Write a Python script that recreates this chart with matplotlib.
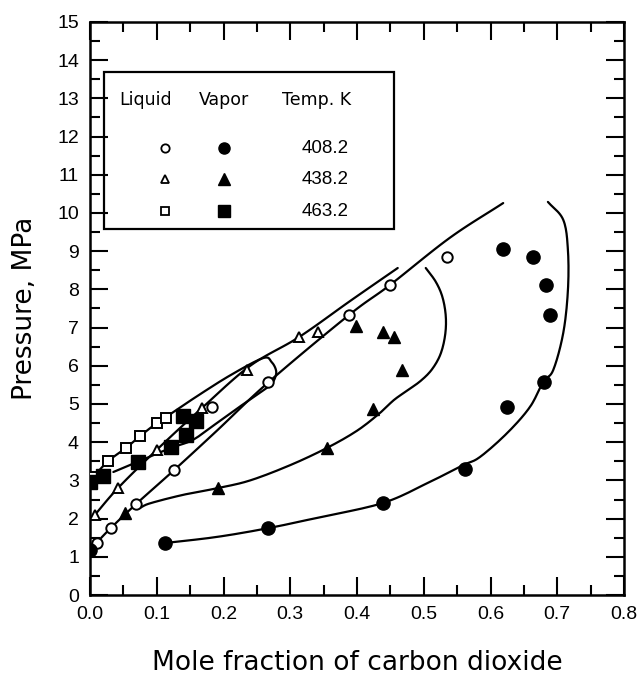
import numpy as np
import matplotlib
matplotlib.use("Agg")
import matplotlib.pyplot as plt
from matplotlib.ticker import MultipleLocator, FormatStrFormatter

# ---------------- data ----------------
# 408.2 K
liq_408_x = [0.010, 0.031, 0.069, 0.126, 0.183, 0.267, 0.388, 0.449, 0.535]
liq_408_y = [1.37, 1.75, 2.38, 3.27, 4.93, 5.58, 7.33, 8.11, 8.85]
vap_408_x = [0.000, 0.112, 0.267, 0.439, 0.562, 0.625, 0.680, 0.689, 0.683, 0.664, 0.619]
vap_408_y = [1.18, 1.36, 1.75, 2.41, 3.30, 4.93, 5.58, 7.33, 8.11, 8.85, 9.06]
# 438.2 K
liq_438_x = [0.007, 0.042, 0.100, 0.168, 0.235, 0.313, 0.342]
liq_438_y = [2.10, 2.80, 3.80, 4.90, 5.89, 6.76, 6.89]
vap_438_x = [0.052, 0.192, 0.355, 0.424, 0.467, 0.455, 0.439, 0.398]
vap_438_y = [2.14, 2.80, 3.85, 4.87, 5.89, 6.75, 6.89, 7.04]
# 463.2 K
liq_463_x = [0.006, 0.027, 0.054, 0.075, 0.100, 0.114]
liq_463_y = [3.08, 3.50, 3.85, 4.16, 4.50, 4.63]
vap_463_x = [0.000, 0.020, 0.072, 0.121, 0.144, 0.140, 0.159]
vap_463_y = [2.96, 3.12, 3.49, 3.88, 4.19, 4.68, 4.56]

# smoothed phase-envelope curves (hand-drawn in the reference)
curve_408_liq_x = [0.000, 0.010, 0.031, 0.069, 0.126, 0.190, 0.268, 0.388, 0.449, 0.539, 0.619]
curve_408_liq_y = [1.18, 1.37, 1.75, 2.38, 3.27, 4.30, 5.58, 7.33, 8.11, 9.35, 10.26]
curve_408_vap_x = [0.686, 0.709, 0.716, 0.716, 0.709, 0.694, 0.679, 0.659, 0.625, 0.584,
                   0.559, 0.509, 0.439, 0.340, 0.267, 0.190, 0.112]
curve_408_vap_y = [10.29, 9.82, 9.03, 7.98, 6.86, 5.89, 5.58, 4.92, 4.24, 3.61,
                   3.40, 2.96, 2.41, 2.02, 1.75, 1.52, 1.36]
curve_438_liq_x = [0.005, 0.042, 0.100, 0.168, 0.240, 0.313, 0.390, 0.461]
curve_438_liq_y = [2.05, 2.80, 3.80, 4.90, 6.00, 6.75, 7.70, 8.56]
curve_438_vap_x = [0.503, 0.518, 0.528, 0.533, 0.532, 0.525, 0.512, 0.495, 0.475, 0.455,
                   0.434, 0.400, 0.355, 0.300, 0.240, 0.192, 0.139, 0.090, 0.075]
curve_438_vap_y = [8.56, 8.20, 7.80, 7.30, 6.80, 6.30, 5.90, 5.60, 5.35, 5.10,
                   4.76, 4.30, 3.85, 3.40, 3.00, 2.80, 2.62, 2.40, 2.28]
curve_463_x = [0.000, 0.027, 0.054, 0.075, 0.100, 0.114, 0.160, 0.210, 0.259, 0.272,
               0.279, 0.275, 0.267, 0.230, 0.190, 0.154, 0.121, 0.072, 0.035]
curve_463_y = [3.00, 3.50, 3.85, 4.16, 4.50, 4.66, 5.20, 5.75, 6.20, 6.10,
               5.85, 5.60, 5.45, 5.00, 4.50, 4.06, 3.85, 3.49, 3.22]

temps = ["408.2", "438.2", "463.2"]


def smooth(xs, ys, n=12):
    """Catmull-Rom smoothing through the given points (display only)."""
    p = np.column_stack([xs, ys]).astype(float)
    p = np.vstack([p[0] * 2 - p[1], p, p[-1] * 2 - p[-2]])
    out = []
    t = np.linspace(0, 1, n, endpoint=False)[:, None]
    for i in range(1, len(p) - 2):
        p0, p1, p2, p3 = p[i - 1], p[i], p[i + 1], p[i + 2]
        seg = 0.5 * ((2 * p1) + (-p0 + p2) * t + (2 * p0 - 5 * p1 + 4 * p2 - p3) * t ** 2
                     + (-p0 + 3 * p1 - 3 * p2 + p3) * t ** 3)
        out.append(seg)
    out.append(p[-2][None, :])
    out = np.vstack(out)
    return out[:, 0], out[:, 1]


plt.rcParams['font.family'] = ['DejaVu Sans']
fig = plt.figure(figsize=(6.39, 6.75), dpi=100)
ax = fig.add_axes([90 / 639, 80 / 675, 534 / 639, 573 / 675])

lw = 1.6
for cx, cy in [(curve_408_liq_x, curve_408_liq_y), (curve_408_vap_x, curve_408_vap_y),
               (curve_438_liq_x, curve_438_liq_y), (curve_438_vap_x, curve_438_vap_y),
               (curve_463_x, curve_463_y)]:
    sx, sy = smooth(cx, cy)
    ax.plot(sx, sy, color='black', lw=lw, solid_capstyle='round', zorder=2)

mk = dict(linestyle='none', zorder=3)
ax.plot(liq_408_x, liq_408_y, marker='o', ms=7.5, mfc='white', mec='black', mew=1.4, **mk)
ax.plot(vap_408_x, vap_408_y, marker='o', ms=9.5, mfc='black', mec='black', **mk)
ax.plot(liq_438_x, liq_438_y, marker='^', ms=7.5, mfc='white', mec='black', mew=1.4, **mk)
ax.plot(vap_438_x, vap_438_y, marker='^', ms=9, mfc='black', mec='black', **mk)
ax.plot(liq_463_x, liq_463_y, marker='s', ms=7, mfc='white', mec='black', mew=1.4, **mk)
ax.plot(vap_463_x, vap_463_y, marker='s', ms=10, mfc='black', mec='black', **mk)

ax.set_xlim(0, 0.8)
ax.set_ylim(0, 15)
ax.xaxis.set_major_locator(MultipleLocator(0.1))
ax.xaxis.set_minor_locator(MultipleLocator(0.05))
ax.yaxis.set_major_locator(MultipleLocator(1))
ax.yaxis.set_minor_locator(MultipleLocator(0.5))
ax.xaxis.set_major_formatter(FormatStrFormatter('%.1f'))
ax.tick_params(which='both', direction='in', top=True, right=True, width=1.5)
ax.tick_params(which='major', length=13, labelsize=14, pad=8)
ax.tick_params(which='minor', length=7)
for lab in ax.get_xticklabels() + ax.get_yticklabels():
    lab.set_fontfamily('Liberation Sans')
for s in ax.spines.values():
    s.set_linewidth(1.8)

ax.set_xlabel('Mole fraction of carbon dioxide', fontsize=19, labelpad=19)
ax.set_ylabel('Pressure, MPa', fontsize=19, labelpad=14)

# legend box drawn as a table in data coordinates
ax.add_patch(plt.Rectangle((0.021, 9.58), 0.435, 4.11, fill=False, lw=1.6,
                           edgecolor='black', zorder=4))
ax.text(0.083, 12.97, 'Liquid', fontsize=12.5, ha='center', va='center')
ax.text(0.200, 12.97, 'Vapor', fontsize=12.5, ha='center', va='center')
ax.text(0.339, 12.97, 'Temp. K', fontsize=12.5, ha='center', va='center')
leg_y = [11.7, 10.88, 10.05]
leg_liq = ['o', '^', 's']
for yy, m, t in zip(leg_y, leg_liq, temps):
    ax.plot([0.113], [yy], marker=m, ms=6, mfc='white', mec='black', mew=1.3, ls='none')
    ax.plot([0.201], [yy], marker=m, ms=8, mfc='black', mec='black', ls='none')
    ax.text(0.352, yy, t, fontsize=13.5, ha='center', va='center', family='Liberation Sans')

fig.savefig('out.png', dpi=100)
